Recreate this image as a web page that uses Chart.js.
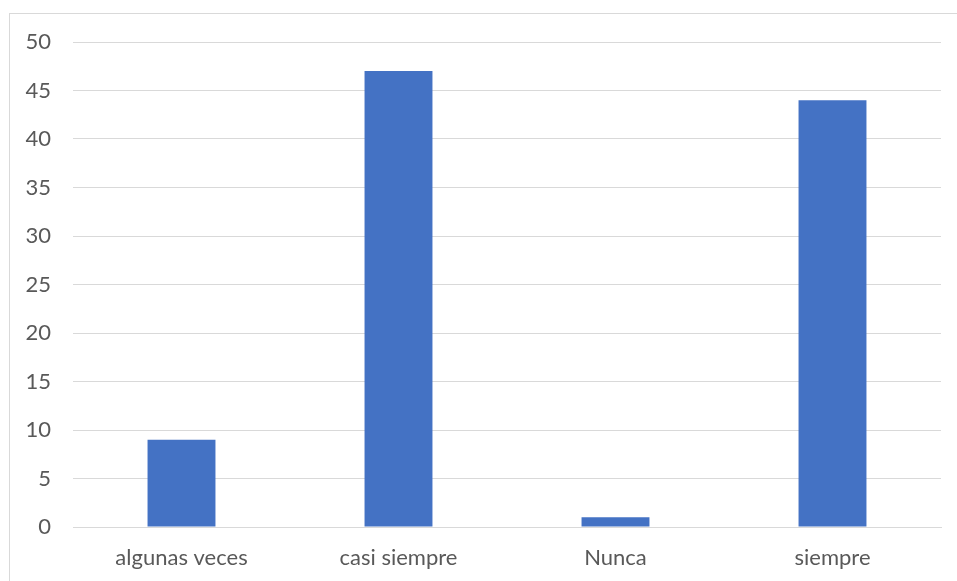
<!DOCTYPE html>
<html>
<head>
<meta charset="utf-8">
<script src="https://cdn.jsdelivr.net/npm/chart.js@4/dist/chart.umd.min.js"></script>
<style>
  html, body { margin: 0; padding: 0; background: #fff; }
  #wrap { width: 957px; height: 581px; position: relative; }
</style>
</head>
<body>
<div id="wrap"><canvas id="grafico"></canvas></div>
<script>
// respuestas por categoría
const categorias = ["algunas veces", "casi siempre", "Nunca", "siempre"];
const valores = [9, 47, 1, 44];
const ticksY = [0, 5, 10, 15, 20, 25, 30, 35, 40, 45, 50];

const colorTexto = "#595959";
const colorRejilla = "#d9d9d9";
const fuente = { family: "Lato, 'Open Sans', sans-serif", size: 22 };

// marco gris alrededor del gráfico
const marco = {
  id: "marco",
  beforeDraw(chart) {
    const ctx = chart.ctx;
    ctx.save();
    ctx.strokeStyle = colorRejilla;
    ctx.lineWidth = 1;
    ctx.strokeRect(9.5, 13.5, chart.width + 20, chart.height + 20);
    ctx.restore();
  }
};

new Chart(document.getElementById("grafico"), {
  type: "bar",
  data: {
    labels: categorias,
    datasets: [{
      data: valores,
      backgroundColor: "#4472C4",
      borderWidth: 0,
      barPercentage: 0.313,
      categoryPercentage: 1
    }]
  },
  options: {
    responsive: true,
    maintainAspectRatio: false,
    animation: false,
    layout: { padding: { left: 10, top: 42, right: 16, bottom: 0 } },
    plugins: { legend: { display: false }, tooltip: { enabled: false } },
    scales: {
      x: {
        grid: { display: false, drawTicks: false },
        border: { display: true, color: colorRejilla, width: 1 },
        ticks: { color: colorTexto, font: fuente, padding: 18, maxRotation: 0 },
        afterFit(scale) { scale.height = 54; }
      },
      y: {
        min: 0,
        max: 50,
        afterBuildTicks(scale) { scale.ticks = ticksY.map(v => ({ value: v })); },
        grid: { color: colorRejilla, lineWidth: 1, drawTicks: false },
        border: { display: false },
        ticks: { color: colorTexto, font: fuente, padding: 22 },
        afterFit(scale) { scale.width = 63; }
      }
    }
  },
  plugins: [marco]
});
</script>
</body>
</html>
